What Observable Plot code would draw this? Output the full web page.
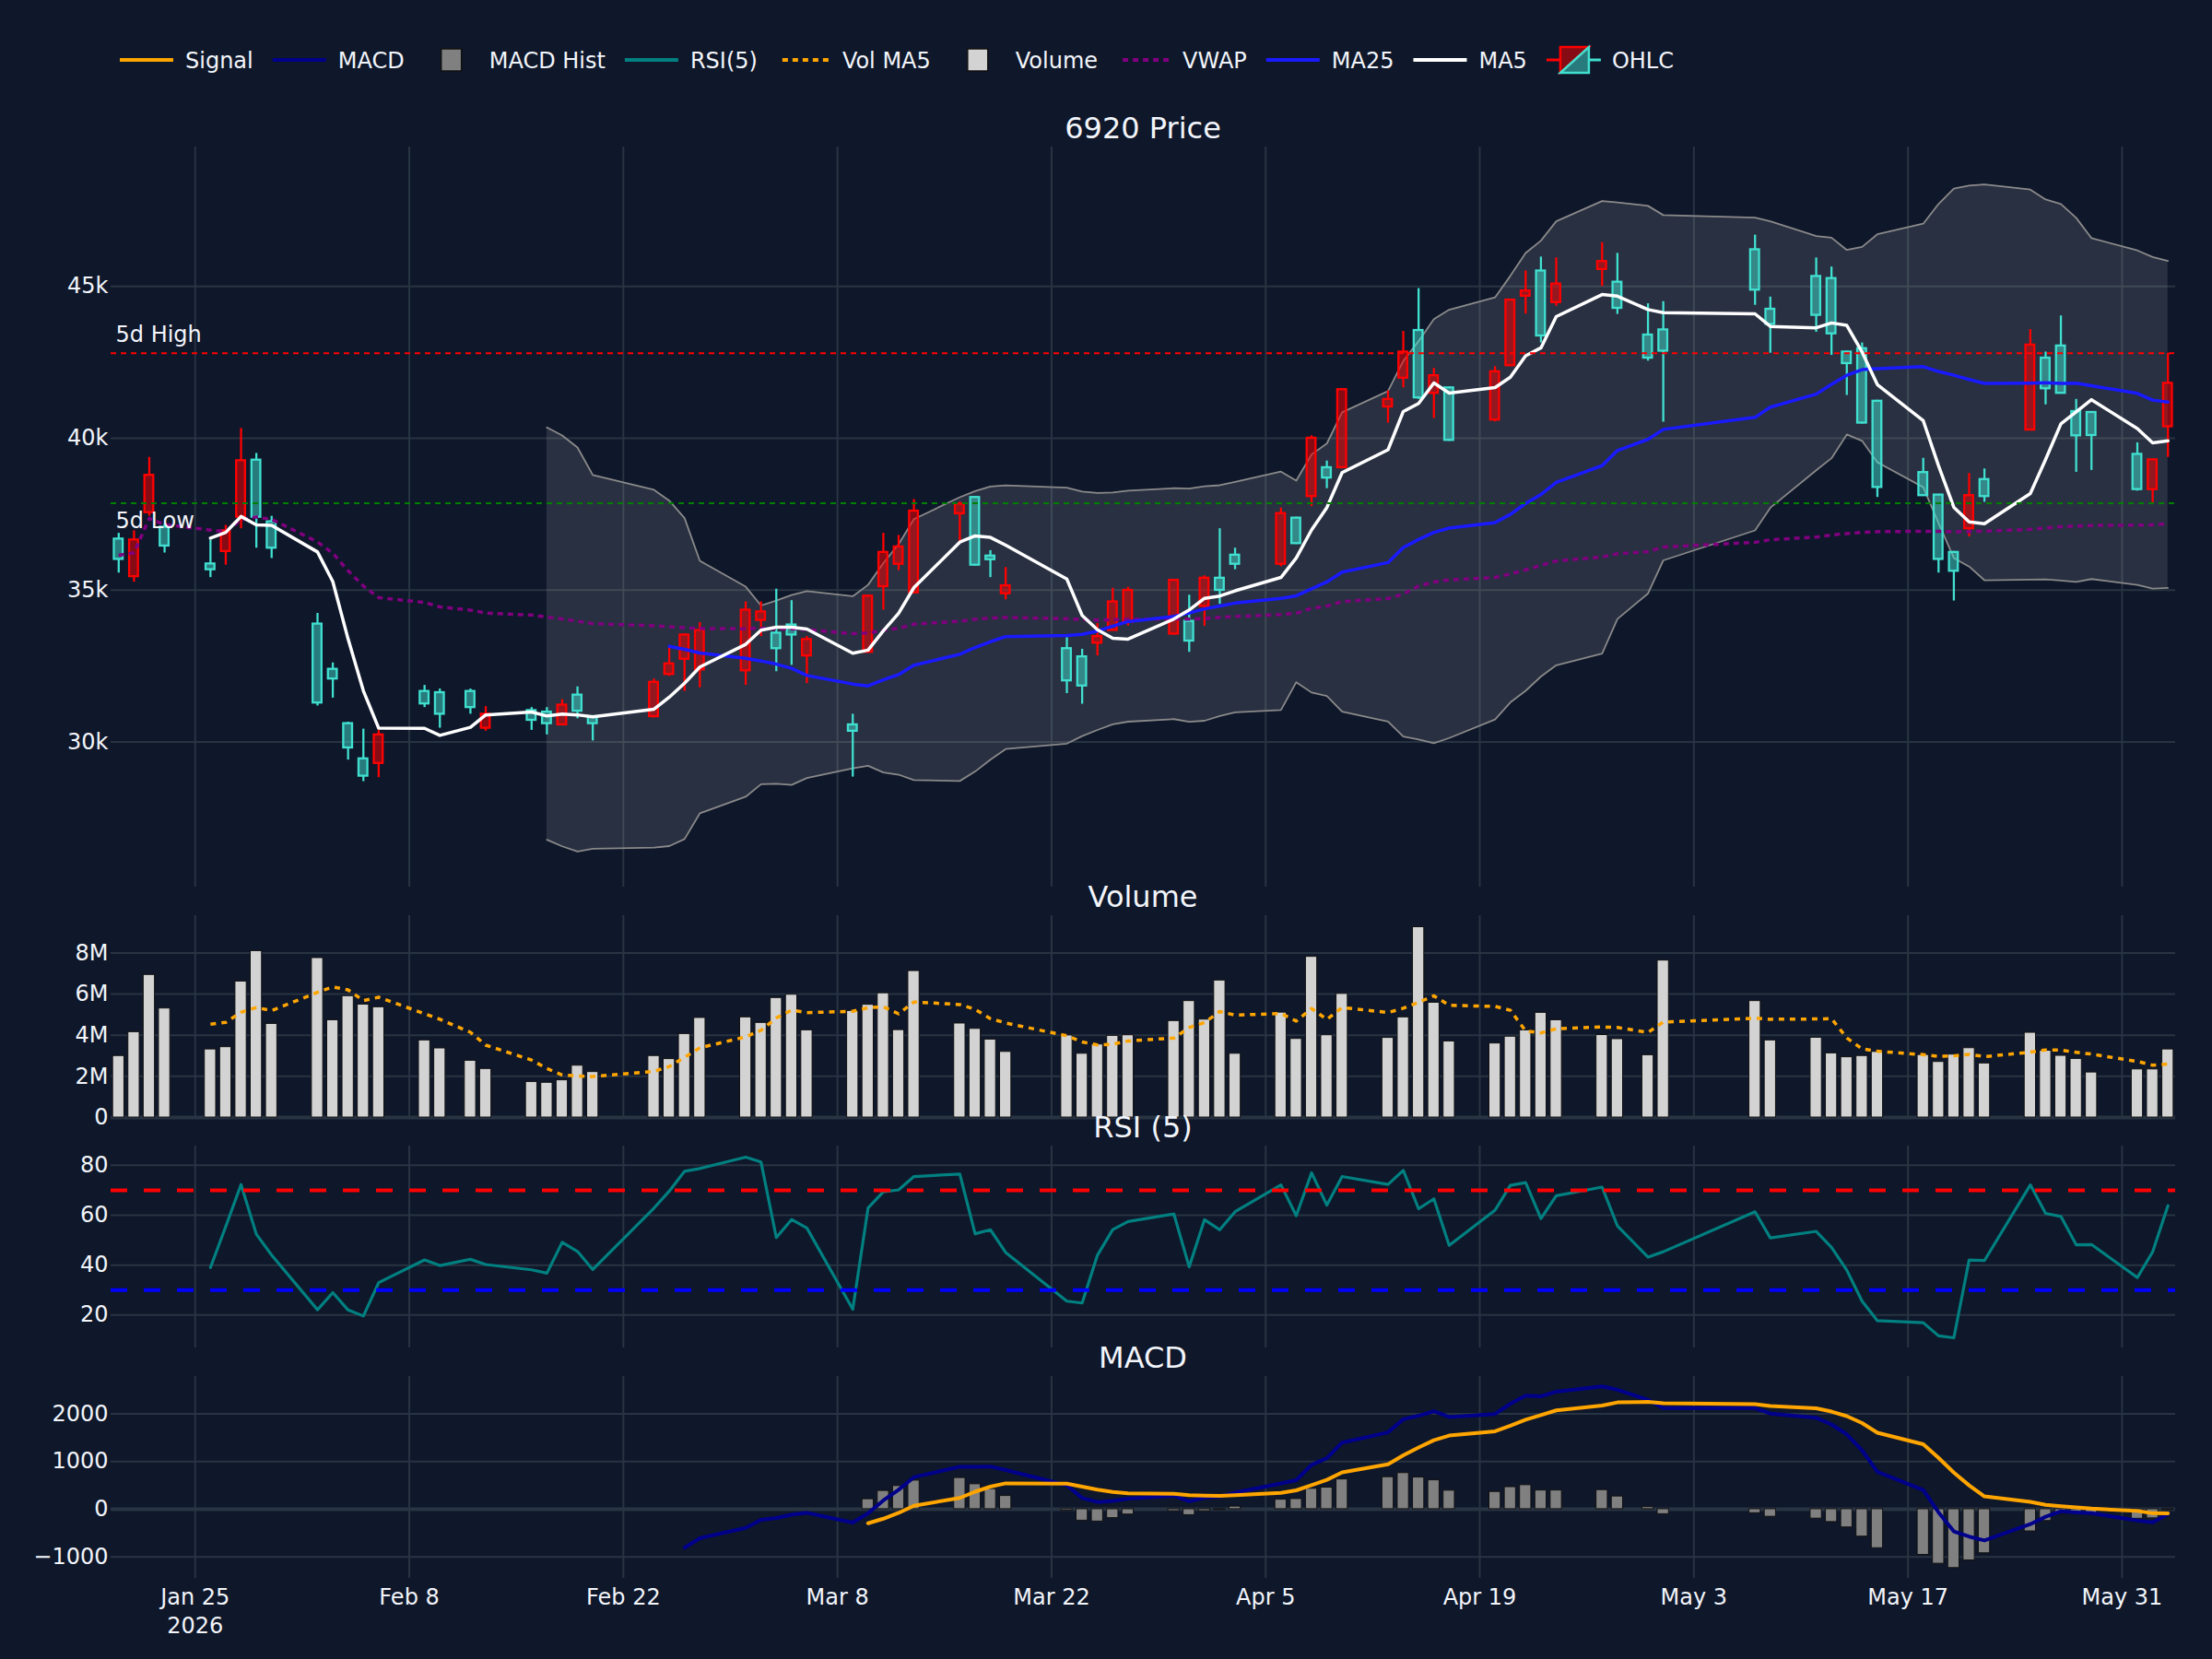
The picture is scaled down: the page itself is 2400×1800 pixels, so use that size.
<!DOCTYPE html>
<html>
<head>
<meta charset="utf-8">
<script src="https://cdn.jsdelivr.net/npm/d3@7"></script>
<script src="https://cdn.jsdelivr.net/npm/@observablehq/plot@0.6"></script>
<style>
  html, body { margin: 0; padding: 0; background: #0f172a; }
  #chart { position: relative; width: 2400px; height: 1800px; background: #0f172a; overflow: hidden; }
  #chart > svg { position: absolute; left: 0; }
</style>
</head>
<body>
<div id="chart"></div>
<script>
// ---- Daily OHLC and volume for 6920 ----
const dates = [
  "2026-01-20","2026-01-21","2026-01-22","2026-01-23","2026-01-26","2026-01-27","2026-01-28","2026-01-29","2026-01-30",
  "2026-02-02","2026-02-03","2026-02-04","2026-02-05","2026-02-06","2026-02-09","2026-02-10","2026-02-12","2026-02-13",
  "2026-02-16","2026-02-17","2026-02-18","2026-02-19","2026-02-20","2026-02-24","2026-02-25","2026-02-26","2026-02-27",
  "2026-03-02","2026-03-03","2026-03-04","2026-03-05","2026-03-06","2026-03-09","2026-03-10","2026-03-11","2026-03-12",
  "2026-03-13","2026-03-16","2026-03-17","2026-03-18","2026-03-19","2026-03-23","2026-03-24","2026-03-25","2026-03-26",
  "2026-03-27","2026-03-30","2026-03-31",
  "2026-04-01","2026-04-02","2026-04-03","2026-04-06","2026-04-07","2026-04-08","2026-04-09","2026-04-10","2026-04-13",
  "2026-04-14","2026-04-15","2026-04-16","2026-04-17","2026-04-20","2026-04-21","2026-04-22","2026-04-23","2026-04-24",
  "2026-04-27","2026-04-28","2026-04-30",
  "2026-05-01","2026-05-07","2026-05-08","2026-05-11","2026-05-12","2026-05-13","2026-05-14","2026-05-15","2026-05-18",
  "2026-05-19","2026-05-20","2026-05-21","2026-05-22","2026-05-25","2026-05-26","2026-05-27","2026-05-28","2026-05-29",
  "2026-06-01","2026-06-02","2026-06-03"
];
const open = [
  36680,35440,37550,37070,35860,36270,37400,39280,37250,
  33880,32390,30600,29440,29290,31660,31620,31660,30450,31030,30980,30560,31540,30830,30830,32220,32720,32370,
  32340,34000,33580,33850,32830,30560,32950,35110,35850,34910,37510,38050,36120,34880,33070,32800,33250,33670,33930,33550,33970,
  34460,35390,36150,35850,37370,38080,39030,39030,41030,41980,43550,41480,41660,40600,42390,44680,45510,44470,45560,45140,43400,
  43570,46210,44250,45330,45260,42840,42950,41220,38870,38130,36240,37020,38640,40270,42640,43040,40880,40850,
  39470,38310,40380
];
const high = [
  36870,36950,39370,37180,36650,37130,40320,39500,37430,
  34230,32600,30650,30420,30380,31860,31740,31740,31160,31130,31130,31390,31810,30850,32070,33130,33560,33930,
  34610,34610,35030,34650,33470,30910,34830,36870,36800,37980,37900,38080,36300,35740,33430,33050,33900,35060,35090,35350,34830,
  35470,37020,36380,37700,37400,40080,39250,41640,41560,43520,44930,42300,41690,42360,44580,45510,45970,45940,46440,46090,44430,
  44500,46690,44650,45940,45640,42870,43140,41250,39340,38150,36270,38840,38990,43580,42840,44030,41280,40870,
  39850,39320,42800
];
const low = [
  35560,35260,37430,36220,35410,35820,37020,36380,36040,
  31180,31440,29400,28690,28820,31130,30450,30910,30350,30380,30230,30530,30760,30030,30790,32160,31660,31780,
  31860,33470,32310,32520,31920,28840,32920,34340,35640,34880,36600,35790,35410,34680,31590,31240,32830,33670,33820,33520,32950,
  33810,34530,35670,35770,36500,37750,38340,39000,40500,41660,41280,40650,39900,40540,42380,44090,43140,44350,45000,44080,42540,
  40530,44380,42800,43490,42730,41410,40470,38050,38090,35560,34640,36750,37890,40250,41100,41460,38880,38940,
  38260,37860,39370
];
const close = [
  36010,36650,38780,36450,35670,36950,39260,37400,36380,
  31280,32070,29800,28870,30230,31250,30910,31130,30910,30710,30600,31210,31010,30600,31960,32570,33520,33670,
  34340,34280,33070,33520,33370,30350,34800,36240,36420,37600,37830,35820,36000,35140,32010,31840,33470,34610,34990,35320,33320,
  35390,34990,35850,37520,36530,40000,38690,41600,41280,42840,41330,42060,39930,42190,44550,44850,43370,45080,45820,44280,42640,
  42870,44880,43750,44050,43440,42460,40500,38380,38110,36010,35620,38110,38080,43070,41630,41480,40080,40090,
  38310,39290,41810
];
const volumeMillions = [
  2.99,4.15,6.93,5.30,3.31,3.42,6.61,8.09,4.55,
  7.75,4.73,5.90,5.49,5.36,3.75,3.36,2.76,2.36,1.73,1.69,1.81,2.52,2.21,2.99,2.84,4.06,4.84,
  4.87,4.60,5.81,5.97,4.24,5.18,5.48,6.04,4.25,7.12,4.57,4.31,3.79,3.19,3.99,3.10,3.55,3.97,4.00,4.69,5.66,
  4.76,6.66,3.10,5.10,3.82,7.81,4.00,6.01,3.87,4.87,9.25,5.58,3.70,3.60,3.93,4.24,5.09,4.73,4.01,3.81,3.03,
  7.63,5.66,3.75,3.88,3.12,2.93,2.99,3.19,3.04,2.70,3.06,3.37,2.63,4.12,3.25,3.00,2.85,2.19,
  2.34,2.34,3.31
];

// ---- Axis ticks ----
const xTickDates = ["2026-01-25","2026-02-08","2026-02-22","2026-03-08","2026-03-22","2026-04-05","2026-04-19","2026-05-03","2026-05-17","2026-05-31"];
const priceTicks = [30000, 35000, 40000, 45000];
const volumeTicks = [0, 2, 4, 6, 8];
const rsiTicks = [20, 40, 60, 80];
const macdTicks = [-1000, 0, 1000, 2000];
const rsiBands = {overbought: 70, oversold: 30};

// ---- Styling ----
const FONT = "DejaVu Sans";
const TEXT = "#f2f5fa";
const GRID = "#283442";
const RED = "#ff0000";
const TEAL = "#40e0d0";
const W = 2400, ML = 120, MR = 40;
const DAY = 864e5;
const parse = d3.utcParse("%Y-%m-%d");
const xTicks = xTickDates.map(parse);
const xDomain = [new Date(Date.UTC(2026, 0, 19, 12)), new Date(Date.UTC(2026, 5, 3, 12))];
const baseStyle = {background: "transparent", color: TEXT, fontFamily: FONT, fontSize: "24px", overflow: "visible"};

// ---- Indicator helpers ----
const sma = (arr, n) => arr.map((_, i) => i < n - 1 ? null : d3.mean(arr.slice(i - n + 1, i + 1)));
const rollStd = (arr, n) => arr.map((_, i) => i < n - 1 ? null : d3.deviation(arr.slice(i - n + 1, i + 1)));
// exponentially weighted mean that skips leading gaps
function ewm(arr, alpha, {adjust = true, minPeriods = 0} = {}) {
  const out = [];
  let num = 0, den = 0, prev = null, count = 0;
  for (const v of arr) {
    if (v == null) { out.push(null); continue; }
    count++;
    if (adjust) { num = num * (1 - alpha) + v; den = den * (1 - alpha) + 1; prev = num / den; }
    else prev = prev == null ? v : (1 - alpha) * prev + alpha * v;
    out.push(count >= minPeriods ? prev : null);
  }
  return out;
}

const ma5 = sma(close, 5);
const ma25 = sma(close, 25);
const mid20 = sma(close, 20);
const sd20 = rollStd(close, 20);
const volMa5 = sma(volumeMillions, 5);
let pvSum = 0, vSum = 0;
const vwap = close.map((c, i) => {
  pvSum += (high[i] + low[i] + c) / 3 * volumeMillions[i];
  vSum += volumeMillions[i];
  return pvSum / vSum;
});
const delta = close.map((c, i) => i === 0 ? 0 : c - close[i - 1]);
const avgGain = ewm(delta.map(d => Math.max(d, 0)), 1 / 5, {minPeriods: 5});
const avgLoss = ewm(delta.map(d => Math.max(-d, 0)), 1 / 5, {minPeriods: 5});
const rsi = avgGain.map((g, i) => g == null ? null : 100 * g / (g + avgLoss[i]));
const ema12 = ewm(close, 2 / 13, {adjust: false});
const ema26 = ewm(close, 2 / 27, {adjust: false, minPeriods: 26});
const macd = ema12.map((v, i) => ema26[i] == null ? null : v - ema26[i]);
const signal = ewm(macd, 2 / 10, {adjust: false, minPeriods: 9});
const hist = macd.map((v, i) => v == null || signal[i] == null ? null : v - signal[i]);

const rows = dates.map((d, i) => ({
  date: parse(d), open: open[i], high: high[i], low: low[i], close: close[i], volume: volumeMillions[i],
  ma5: ma5[i], ma25: ma25[i], vwap: vwap[i], volMa5: volMa5[i], rsi: rsi[i],
  bbUpper: mid20[i] == null ? null : mid20[i] + 2 * sd20[i],
  bbLower: mid20[i] == null ? null : mid20[i] - 2 * sd20[i],
  macd: macd[i], signal: signal[i], hist: hist[i]
}));
const up = rows.filter(r => r.close >= r.open);
const down = rows.filter(r => r.close < r.open);
const last5 = rows.slice(-5);
const fiveHigh = d3.max(last5, r => r.high);
const fiveLow = d3.min(last5, r => r.low);

const CANDLE = 0.29 * DAY, BAR = 0.37 * DAY;
const gridX = () => Plot.ruleX(xTicks, {stroke: GRID, strokeWidth: 2});
const gridY = ticks => Plot.ruleY(ticks, {stroke: GRID, strokeWidth: 2});
const yAxis = (ticks, fmt) => Plot.axisY({ticks, tickFormat: fmt, tickSize: 0, tickPadding: 3, fontSize: 24});

// ---- Price panel ----
const pricePlot = Plot.plot({
  width: W, height: 803, marginTop: 0, marginBottom: 0, marginLeft: ML, marginRight: MR,
  style: baseStyle,
  x: {type: "utc", domain: xDomain, axis: null, label: null},
  y: {domain: [25215, 49593], label: null},
  marks: [
    gridX(), gridY(priceTicks),
    Plot.areaY(rows, {x: "date", y1: "bbLower", y2: "bbUpper", fill: "#ffffff", fillOpacity: 0.11}),
    Plot.line(rows, {x: "date", y: "bbUpper", stroke: "#8a8a8a", strokeWidth: 1.8}),
    Plot.line(rows, {x: "date", y: "bbLower", stroke: "#8a8a8a", strokeWidth: 1.8}),
    // wicks run from the body edge to the extreme
    Plot.ruleX(up, {x: "date", y1: "close", y2: "high", stroke: RED, strokeWidth: 2.3}),
    Plot.ruleX(up, {x: "date", y1: "low", y2: "open", stroke: RED, strokeWidth: 2.3}),
    Plot.ruleX(down, {x: "date", y1: "open", y2: "high", stroke: TEAL, strokeWidth: 2.3}),
    Plot.ruleX(down, {x: "date", y1: "low", y2: "close", stroke: TEAL, strokeWidth: 2.3}),
    Plot.rect(up, {x1: d => new Date(+d.date - CANDLE), x2: d => new Date(+d.date + CANDLE), y1: "open", y2: "close",
      fill: RED, fillOpacity: 0.5, stroke: RED, strokeWidth: 2.3}),
    Plot.rect(down, {x1: d => new Date(+d.date - CANDLE), x2: d => new Date(+d.date + CANDLE), y1: "close", y2: "open",
      fill: TEAL, fillOpacity: 0.5, stroke: TEAL, strokeWidth: 2.3}),
    Plot.line(rows, {x: "date", y: "vwap", stroke: "#800080", strokeWidth: 3.5, strokeDasharray: "6,5", strokeLinecap: "butt"}),
    Plot.line(rows, {x: "date", y: "ma25", stroke: "#1a1aff", strokeWidth: 3.5}),
    Plot.line(rows, {x: "date", y: "ma5", stroke: "#ffffff", strokeWidth: 3.5}),
    Plot.ruleY([fiveHigh], {stroke: RED, strokeWidth: 2, strokeDasharray: "6,5"}),
    Plot.ruleY([fiveLow], {stroke: "#008000", strokeWidth: 2, strokeDasharray: "6,5"}),
    Plot.text([fiveHigh], {y: d => d, text: () => "5d High", frameAnchor: "left", textAnchor: "start", lineAnchor: "bottom", dx: 5, dy: -12, fill: TEXT, fontSize: 24}),
    Plot.text([fiveLow], {y: d => d, text: () => "5d Low", frameAnchor: "left", textAnchor: "start", lineAnchor: "top", dx: 5, dy: 10, fill: TEXT, fontSize: 24}),
    yAxis(priceTicks, d => d / 1000 + "k")
  ]
});

// ---- Volume panel ----
const volumePlot = Plot.plot({
  width: W, height: 219, marginTop: 0, marginBottom: 0, marginLeft: ML, marginRight: MR,
  style: baseStyle,
  x: {type: "utc", domain: xDomain, axis: null, label: null},
  y: {domain: [0, 9.81], label: null},
  marks: [
    gridX(), gridY(volumeTicks.filter(d => d > 0)),
    Plot.ruleY([0], {stroke: GRID, strokeWidth: 4}),
    Plot.rect(rows, {x1: d => new Date(+d.date - BAR), x2: d => new Date(+d.date + BAR), y1: 0, y2: "volume",
      fill: "#d3d3d3", stroke: "#111111", strokeWidth: 1}),
    Plot.line(rows, {x: "date", y: "volMa5", stroke: "#ffa500", strokeWidth: 3.5, strokeDasharray: "6,6", strokeLinecap: "butt"}),
    yAxis(volumeTicks, d => d === 0 ? "0" : d + "M")
  ]
});

// ---- RSI panel ----
const rsiPlot = Plot.plot({
  width: W, height: 219, marginTop: 0, marginBottom: 0, marginLeft: ML, marginRight: MR,
  style: baseStyle,
  x: {type: "utc", domain: xDomain, axis: null, label: null},
  y: {domain: [6.8, 87.7], label: null},
  marks: [
    gridX(), gridY(rsiTicks),
    Plot.line(rows, {x: "date", y: "rsi", stroke: "#008080", strokeWidth: 3.2}),
    Plot.ruleY([rsiBands.overbought], {stroke: RED, strokeWidth: 4, strokeDasharray: "18,18"}),
    Plot.ruleY([rsiBands.oversold], {stroke: "#0000ff", strokeWidth: 4, strokeDasharray: "18,18"}),
    yAxis(rsiTicks, d => String(d))
  ]
});

// ---- MACD panel (carries the shared date axis) ----
const firstTick = +xTicks[0];
const macdPlot = Plot.plot({
  width: W, height: 307, marginTop: 0, marginBottom: 88, marginLeft: ML, marginRight: MR,
  style: baseStyle,
  x: {type: "utc", domain: xDomain, label: null},
  y: {domain: [-1451, 2783], label: null},
  marks: [
    gridX(), gridY(macdTicks.filter(d => d !== 0)),
    Plot.ruleY([0], {stroke: GRID, strokeWidth: 4}),
    Plot.rect(rows, {x1: d => new Date(+d.date - BAR), x2: d => new Date(+d.date + BAR), y1: 0, y2: "hist",
      fill: "#808080", stroke: "#111111", strokeWidth: 1}),
    Plot.line(rows, {x: "date", y: "macd", stroke: "#00008b", strokeWidth: 4}),
    Plot.line(rows, {x: "date", y: "signal", stroke: "#ffa500", strokeWidth: 4}),
    yAxis(macdTicks, d => d < 0 ? "\u2212" + Math.abs(d) : String(d)),
    Plot.axisX({ticks: xTicks, tickSize: 0, tickPadding: 7, lineHeight: 1.28, fontSize: 24,
      tickFormat: d => +d === firstTick ? d3.utcFormat("%b %-d")(d) + "\n2026" : d3.utcFormat("%b %-d")(d)})
  ]
});

const chart = document.getElementById("chart");
[[pricePlot, 159], [volumePlot, 993], [rsiPlot, 1243], [macdPlot, 1493]].forEach(([svg, top]) => {
  svg.style.top = top + "px";
  chart.appendChild(svg);
});

// ---- Panel titles and legend ----
const overlay = d3.select(chart).append("svg")
  .attr("width", W).attr("height", 1800)
  .style("position", "absolute").style("top", "0px").style("left", "0px")
  .attr("font-family", FONT).attr("fill", TEXT);

const plotCenter = (ML + W - MR) / 2;
[["6920 Price", 159], ["Volume", 993], ["RSI (5)", 1243], ["MACD", 1493]].forEach(([t, top]) => {
  overlay.append("text").attr("x", plotCenter).attr("y", top - 9.5)
    .attr("text-anchor", "middle").attr("font-size", 32).text(t);
});

const legendItems = [
  {label: "Signal", kind: "line", color: "#ffa500"},
  {label: "MACD", kind: "line", color: "#00008b"},
  {label: "MACD Hist", kind: "box", color: "#808080"},
  {label: "RSI(5)", kind: "line", color: "#008080"},
  {label: "Vol MA5", kind: "dot", color: "#ffa500"},
  {label: "Volume", kind: "box", color: "#d3d3d3"},
  {label: "VWAP", kind: "dot", color: "#800080"},
  {label: "MA25", kind: "line", color: "#1a1aff"},
  {label: "MA5", kind: "line", color: "#ffffff"},
  {label: "OHLC", kind: "candle"}
];
let lx = 130;
for (const it of legendItems) {
  const g = overlay.append("g").attr("transform", `translate(${lx},65)`);
  if (it.kind === "line") {
    g.append("line").attr("x1", 0).attr("x2", 58).attr("stroke", it.color).attr("stroke-width", 4);
  } else if (it.kind === "dot") {
    g.append("line").attr("x1", 6).attr("x2", 58).attr("stroke", it.color).attr("stroke-width", 4).attr("stroke-dasharray", "6,5");
  } else if (it.kind === "box") {
    g.append("rect").attr("x", 19).attr("y", -12).attr("width", 22).attr("height", 24)
      .attr("fill", it.color).attr("stroke", "#111111").attr("stroke-width", 1.5);
  } else {
    g.append("line").attr("x1", 0).attr("x2", 15).attr("stroke", RED).attr("stroke-width", 3);
    g.append("line").attr("x1", 46).attr("x2", 59).attr("stroke", TEAL).attr("stroke-width", 3);
    g.append("path").attr("d", "M15,-14H46L15,14Z").attr("fill", RED).attr("fill-opacity", 0.5).attr("stroke", RED).attr("stroke-width", 2.5);
    g.append("path").attr("d", "M46,-14V14H15Z").attr("fill", TEAL).attr("fill-opacity", 0.5).attr("stroke", TEAL).attr("stroke-width", 2.5);
  }
  const t = g.append("text").attr("x", 71).attr("y", 8.5).attr("font-size", 24).text(it.label);
  lx += 71 + t.node().getComputedTextLength() + 21;
}
</script>
</body>
</html>
